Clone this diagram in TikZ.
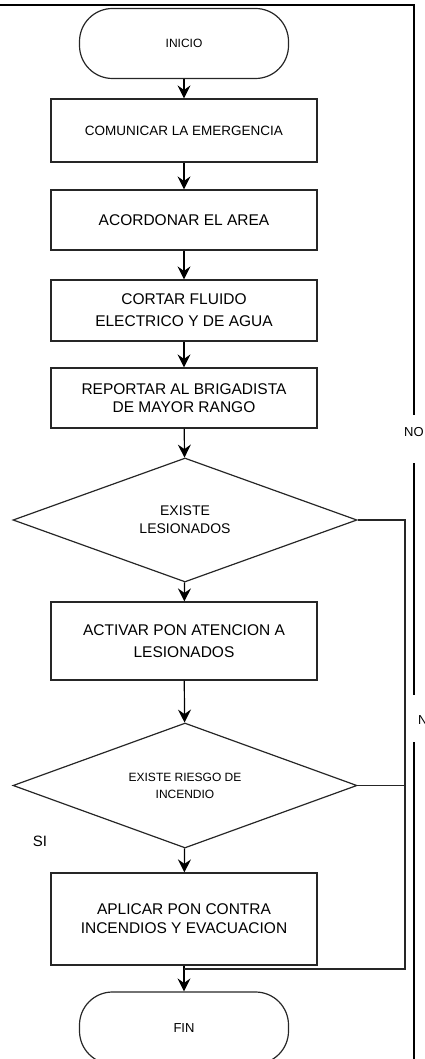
\documentclass[tikz,border=0pt]{standalone}
\usepackage{fontspec}
\setmainfont{Liberation Sans}
\usetikzlibrary{shapes.geometric,arrows.meta}
\begin{document}
\begin{tikzpicture}[x=1pt,y=-1pt,
  lw/.style={line width=1.2pt, draw=black!85},
  box/.style={lw, rectangle, minimum width=266pt, inner sep=0pt, align=center, font=\fontsize{15.5}{22}\selectfont},
  term/.style={lw, rectangle, rounded corners=33pt, minimum width=209pt, minimum height=70pt, inner sep=0pt, font=\fontsize{12}{14}\selectfont},
  dec/.style={lw, diamond, aspect=2.77, minimum width=344pt, minimum height=124pt, inner sep=0pt, align=center},
  arr/.style={-{Stealth[length=13pt,width=13pt,inset=4.5pt]}, line width=1.2pt, black},
  conn/.style={line width=1.2pt, black!85},
  border/.style={line width=2pt, black},
  lbl/.style={inner sep=0pt, font=\fontsize{13}{15}\selectfont}
]
\useasboundingbox (0,0) rectangle (425,1059);
\clip (0,0) rectangle (425,1059);

% frame
\coordinate (f0) at (0,5);
\coordinate (fc) at (414,5);
\draw[border] (f0) -- (fc) -- (414,415);
\draw[border] (414,463) -- (414,695);
\draw[border] (414,742) -- (414,1059);

% nodes
\node[term] (inicio) at (184,43.5) {INICIO};
\node[box, minimum height=63pt, font=\fontsize{13.5}{15}\selectfont] (b1) at (184,130.5) {\raisebox{-4.5pt}{COMUNICAR LA EMERGENCIA}};
\node[box, minimum height=60pt] (b2) at (184,220) {ACORDONAR EL AREA};
\node[box, minimum height=61pt] (b3) at (184,310.5) {CORTAR FLUIDO\\ELECTRICO Y DE AGUA};
\node[box, minimum height=60pt, font=\fontsize{15.5}{18}\selectfont] (b4) at (184,398) {REPORTAR AL BRIGADISTA\\DE MAYOR RANGO};
\node[dec, font=\fontsize{14}{18}\selectfont] (d1) at (185,520) {EXISTE\\LESIONADOS};
\node[box, minimum height=78pt] (b5) at (184,641) {ACTIVAR PON ATENCION A\\LESIONADOS};
\node[dec, minimum height=125pt, font=\fontsize{12}{17}\selectfont] (d2) at (185,785.5) {EXISTE RIESGO DE\\INCENDIO};
\node[box, minimum height=92pt, font=\fontsize{15.5}{19}\selectfont] (b6) at (184,919) {APLICAR PON CONTRA\\INCENDIOS Y EVACUACION};
\node[term, minimum height=72pt, font=\fontsize{13}{15}\selectfont] (fin) at (184,1028) {FIN};

% labels
\node[lbl, font=\fontsize{15}{17}\selectfont] (si) at (40,841) {SI};
\node[lbl, anchor=west] (no1) at (404,432) {NO};
\node[lbl, anchor=west] (no2) at (418,720) {NO};

% arrows
\draw[arr] (inicio) -- (b1);
\draw[arr] (b1) -- (b2);
\draw[arr] (b2) -- (b3);
\draw[arr] (b3) -- (b4);
\draw[arr] (b4) -- (d1);
\draw[arr] (d1) -- (b5);
\draw[arr] (b5) -- (d2);
\draw[arr] (d2) -- (b6);
\draw[arr] (b6) -- (fin);

% NO branch
\coordinate (rb) at (405,969);
\coordinate (j) at (184,969);
\draw[conn] (d1.east) -| (rb) -- (j);
\draw[conn] (d2.east) -- (d2.east -| rb);
\end{tikzpicture}
\end{document}
